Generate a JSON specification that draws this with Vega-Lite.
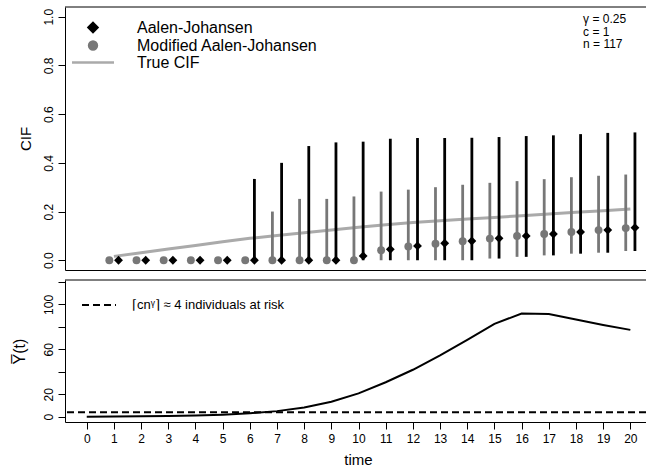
{
  "$schema": "https://vega.github.io/schema/vega-lite/v6.json",
  "background": "white",
  "padding": {"left": 10, "top": 6, "right": 0, "bottom": 0},
  "spacing": 9,
  "resolve": {"scale": {"color": "independent", "strokeDash": "independent"}, "legend": {"color": "independent", "strokeDash": "independent"}},
  "config": {
    "view": {"stroke": null},
    "font": "Liberation Sans",
    "axis": {
      "labelFont": "Liberation Sans", "labelFontSize": 12, "labelColor": "black",
      "tickColor": "black", "domainColor": "black", "tickSize": 7, "tickWidth": 1, "domainWidth": 1,
      "titleFont": "Liberation Sans", "titleFontSize": 15, "titleFontWeight": "normal", "titleColor": "black",
      "grid": false, "labelOverlap": false, "labelFlush": false, "minExtent": 0
    },
    "legend": {"labelFont": "Liberation Sans", "labelColor": "black", "labelLimit": 0}
  },
  "datasets": {
    "cif": [
      {"t": 1, "aj": 0, "ajlo": 0, "ajhi": 0, "maj": 0, "majlo": 0, "majhi": 0, "truecif": 0.016},
      {"t": 2, "aj": 0, "ajlo": 0, "ajhi": 0, "maj": 0, "majlo": 0, "majhi": 0, "truecif": 0.031},
      {"t": 3, "aj": 0, "ajlo": 0, "ajhi": 0, "maj": 0, "majlo": 0, "majhi": 0, "truecif": 0.046},
      {"t": 4, "aj": 0, "ajlo": 0, "ajhi": 0, "maj": 0, "majlo": 0, "majhi": 0, "truecif": 0.061},
      {"t": 5, "aj": 0, "ajlo": 0, "ajhi": 0, "maj": 0, "majlo": 0, "majhi": 0, "truecif": 0.076},
      {"t": 6, "aj": 0, "ajlo": 0, "ajhi": 0.334, "maj": 0, "majlo": 0, "majhi": 0, "truecif": 0.090},
      {"t": 7, "aj": 0, "ajlo": 0, "ajhi": 0.400, "maj": 0, "majlo": 0, "majhi": 0.200, "truecif": 0.102},
      {"t": 8, "aj": 0, "ajlo": 0, "ajhi": 0.469, "maj": 0, "majlo": 0, "majhi": 0.252, "truecif": 0.113},
      {"t": 9, "aj": 0, "ajlo": 0, "ajhi": 0.484, "maj": 0, "majlo": 0, "majhi": 0.252, "truecif": 0.124},
      {"t": 10, "aj": 0.018, "ajlo": 0, "ajhi": 0.487, "maj": 0, "majlo": 0, "majhi": 0.262, "truecif": 0.136},
      {"t": 11, "aj": 0.045, "ajlo": 0, "ajhi": 0.499, "maj": 0.041, "majlo": 0, "majhi": 0.282, "truecif": 0.146},
      {"t": 12, "aj": 0.059, "ajlo": 0, "ajhi": 0.502, "maj": 0.057, "majlo": 0, "majhi": 0.290, "truecif": 0.155},
      {"t": 13, "aj": 0.070, "ajlo": 0, "ajhi": 0.502, "maj": 0.068, "majlo": 0, "majhi": 0.300, "truecif": 0.162},
      {"t": 14, "aj": 0.079, "ajlo": 0, "ajhi": 0.503, "maj": 0.078, "majlo": 0, "majhi": 0.310, "truecif": 0.169},
      {"t": 15, "aj": 0.090, "ajlo": 0.007, "ajhi": 0.506, "maj": 0.089, "majlo": 0.007, "majhi": 0.318, "truecif": 0.176},
      {"t": 16, "aj": 0.100, "ajlo": 0.014, "ajhi": 0.510, "maj": 0.100, "majlo": 0.014, "majhi": 0.325, "truecif": 0.183},
      {"t": 17, "aj": 0.108, "ajlo": 0.020, "ajhi": 0.513, "maj": 0.108, "majlo": 0.020, "majhi": 0.333, "truecif": 0.190},
      {"t": 18, "aj": 0.116, "ajlo": 0.027, "ajhi": 0.518, "maj": 0.116, "majlo": 0.027, "majhi": 0.341, "truecif": 0.197},
      {"t": 19, "aj": 0.124, "ajlo": 0.031, "ajhi": 0.523, "maj": 0.124, "majlo": 0.031, "majhi": 0.347, "truecif": 0.203},
      {"t": 20, "aj": 0.134, "ajlo": 0.038, "ajhi": 0.525, "maj": 0.132, "majlo": 0.038, "majhi": 0.352, "truecif": 0.210}
    ],
    "ybar": [
      {"t": 0, "y": 0}, {"t": 1, "y": 0.2}, {"t": 2, "y": 0.4}, {"t": 3, "y": 0.7}, {"t": 4, "y": 1.1},
      {"t": 5, "y": 1.8}, {"t": 6, "y": 3.0}, {"t": 7, "y": 5.0}, {"t": 8, "y": 8.3}, {"t": 9, "y": 13.3},
      {"t": 10, "y": 20.8}, {"t": 11, "y": 30.7}, {"t": 12, "y": 41.8}, {"t": 13, "y": 54.6}, {"t": 14, "y": 68.3},
      {"t": 15, "y": 82.6}, {"t": 16, "y": 91.9}, {"t": 17, "y": 91.5}, {"t": 18, "y": 86.6}, {"t": 19, "y": 81.7},
      {"t": 20, "y": 77.3}
    ]
  },
  "vconcat": [
    {
      "width": 581,
      "height": 263,
      "resolve": {"axis": {"x": "independent", "y": "independent"}},
      "layer": [
        {
          "data": {"name": "cif"},
          "mark": {"type": "line", "strokeWidth": 3, "strokeCap": "butt"},
          "encoding": {
            "x": {"field": "t", "type": "quantitative",
                  "scale": {"domain": [-0.8, 20.576], "nice": false, "zero": false},
                  "axis": {"orient": "bottom", "domain": true, "ticks": false, "labels": false, "title": null}},
            "y": {"field": "truecif", "type": "quantitative",
                  "scale": {"domain": [-0.04, 1.04], "nice": false, "zero": false},
                  "axis": {"values": [0, 0.2, 0.4, 0.6, 0.8, 1], "format": ".1f", "labelAngle": -90,
                           "labelAlign": "center", "labelBaseline": "alphabetic", "labelPadding": 6,
                           "title": "CIF", "titleX": -40, "titleY": 131.5, "titleAngle": -90,
                           "titleAlign": "center", "titleBaseline": "middle"}},
            "color": {"datum": "True CIF",
                      "scale": {"domain": ["Aalen-Johansen", "Modified Aalen-Johansen", "True CIF"],
                                "range": ["black", "#777777", "#aaaaaa"]},
                      "legend": {"orient": "none", "direction": "vertical", "columns": 1,
                                 "legendX": 7, "legendY": 12.5, "title": null, "padding": 0,
                                 "labelFontSize": 16, "labelOffset": 36, "symbolOffset": 13, "rowPadding": -3.5, "symbolSize": 1764,
                                 "encode": {"symbols": {"update": {
                                   "shape": {"signal": "datum.value === 'True CIF' ? 'stroke' : (datum.value === 'Aalen-Johansen' ? 'diamond' : 'circle')"},
                                   "size": {"signal": "datum.value === 'True CIF' ? 1764 : (datum.value === 'Aalen-Johansen' ? 78 : 62)"},
                                   "fill": {"signal": "datum.value === 'Aalen-Johansen' ? 'black' : (datum.value === 'Modified Aalen-Johansen' ? '#777777' : 'transparent')"},
                                   "stroke": {"signal": "datum.value === 'True CIF' ? '#aaaaaa' : 'transparent'"},
                                   "strokeWidth": {"value": 2.5},
                                   "opacity": {"value": 1}
                                 }}}}}
          }
        },
        {
          "data": {"name": "cif"},
          "mark": {"type": "rule", "strokeWidth": 2.8, "color": "#777777", "xOffset": -4.6},
          "encoding": {
            "x": {"field": "t", "type": "quantitative", "axis": null},
            "y": {"field": "majlo", "type": "quantitative", "axis": null},
            "y2": {"field": "majhi"}
          }
        },
        {
          "data": {"name": "cif"},
          "mark": {"type": "point", "shape": "circle", "filled": true, "size": 62, "opacity": 1, "xOffset": -4.6},
          "encoding": {
            "x": {"field": "t", "type": "quantitative", "axis": null},
            "y": {"field": "maj", "type": "quantitative", "axis": null},
            "color": {"datum": "Modified Aalen-Johansen"}
          }
        },
        {
          "data": {"name": "cif"},
          "mark": {"type": "rule", "strokeWidth": 2.8, "color": "black", "xOffset": 4.6},
          "encoding": {
            "x": {"field": "t", "type": "quantitative", "axis": null},
            "y": {"field": "ajlo", "type": "quantitative", "axis": null},
            "y2": {"field": "ajhi"}
          }
        },
        {
          "data": {"name": "cif"},
          "mark": {"type": "point", "shape": "diamond", "filled": true, "size": 78, "opacity": 1, "xOffset": 4.6},
          "encoding": {
            "x": {"field": "t", "type": "quantitative", "axis": null},
            "y": {"field": "aj", "type": "quantitative", "axis": null},
            "color": {"datum": "Aalen-Johansen"}
          }
        },
        {
          "data": {"values": [{}]},
          "mark": {"type": "text", "align": "left", "baseline": "top", "fontSize": 12, "lineHeight": 12.5,
                   "font": "Liberation Sans", "color": "black"},
          "encoding": {
            "x": {"datum": 18.26, "axis": null},
            "y": {"datum": 1.01, "axis": null},
            "text": {"value": ["γ = 0.25", "c = 1", "n = 117"]}
          }
        },
        {
          "data": {"values": [{}]},
          "mark": {"type": "rule", "color": "black", "strokeWidth": 1},
          "encoding": {"y": {"datum": 1.04, "axis": null}}
        }
      ]
    },
    {
      "width": 581,
      "height": 142,
      "resolve": {"axis": {"x": "independent", "y": "independent"}},
      "layer": [
        {
          "data": {"name": "ybar"},
          "mark": {"type": "line", "strokeWidth": 2, "color": "black"},
          "encoding": {
            "x": {"field": "t", "type": "quantitative",
                  "scale": {"domain": [-0.8, 20.576], "nice": false, "zero": false},
                  "axis": {"values": [0,1,2,3,4,5,6,7,8,9,10,11,12,13,14,15,16,17,18,19,20], "labelPadding": 4,
                           "title": "time", "titleX": 293, "titleY": 42, "titleAlign": "center", "titleBaseline": "alphabetic"}},
            "y": {"field": "y", "type": "quantitative",
                  "scale": {"domain": [-4.68, 121.68], "nice": false, "zero": false},
                  "axis": {"values": [0, 20, 40, 60, 80, 100, 120],
                           "labelExpr": "datum.value == 40 || datum.value == 80 || datum.value == 120 ? '' : datum.label",
                           "labelAngle": -90, "labelAlign": "center", "labelBaseline": "alphabetic", "labelPadding": 6,
                           "title": "Y̅(t)", "titleFontSize": 16, "titleX": -46, "titleY": 71, "titleAngle": -90,
                           "titleAlign": "center", "titleBaseline": "middle"}}
          }
        },
        {
          "data": {"values": [{}]},
          "mark": {"type": "rule", "strokeWidth": 2, "color": "black"},
          "encoding": {
            "y": {"datum": 4, "axis": null},
            "strokeDash": {"datum": "⌈cnᵞ⌉ ≈ 4 individuals at risk",
                           "scale": {"range": [[7, 4]]},
                           "legend": {"orient": "none", "legendX": 16, "legendY": 7, "title": null, "padding": 0,
                                      "labelFontSize": 13, "labelOffset": 15, "symbolSize": 1156,
                                      "symbolStrokeWidth": 2, "symbolStrokeColor": "black", "symbolType": "stroke"}}
          }
        },
        {
          "data": {"values": [{}]},
          "mark": {"type": "rule", "color": "black", "strokeWidth": 1},
          "encoding": {"y": {"datum": 121.68, "axis": null}}
        }
      ]
    }
  ]
}
